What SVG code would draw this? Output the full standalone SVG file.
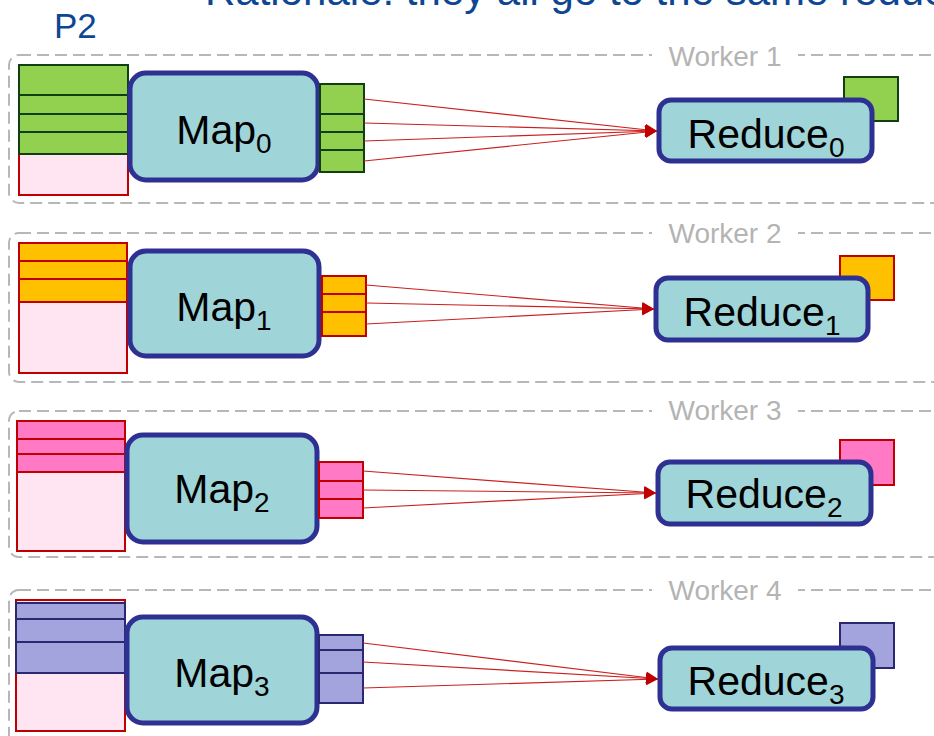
<svg xmlns="http://www.w3.org/2000/svg" width="934" height="736" viewBox="0 0 934 736">
  <defs>
    <style>
      .title { font-family: "Liberation Sans", Arial, sans-serif; fill: #0d4794; }
      .worker { fill: none; stroke: #b7b7b7; stroke-width: 2; stroke-dasharray: 12 6; }
      .wlabel { font-family: "Liberation Sans", Arial, sans-serif; font-size: 28px; fill: #b4b4b4; }
      .gap { fill: #ffffff; }
      .task { fill: #9fd4d8; stroke: #2e3192; stroke-width: 5; }
      .tasktext { font-family: "Liberation Sans", Arial, sans-serif; font-size: 41px; fill: #000000; }
      .sub { font-size: 28px; }
      .bg { fill: #ffe4f2; stroke: #c00000; stroke-width: 2; }
      .green { fill: #92d050; stroke: #123f12; stroke-width: 2; }
      .yellow { fill: #ffc000; stroke: #c00000; stroke-width: 2; }
      .pink { fill: #ff79c4; stroke: #c00000; stroke-width: 2; }
      .purple { fill: #a3a3de; stroke: #2a286e; stroke-width: 2; }
      .flow { fill: none; stroke: #cc1f1f; stroke-width: 1.2; }
    </style>
    <marker id="arrow" markerUnits="userSpaceOnUse" markerWidth="12" markerHeight="12" refX="12" refY="6" orient="auto">
      <path d="M0,0 L12,6 L0,12 z" fill="#c00000"/>
    </marker>
  </defs>

  <!-- heading -->
  <text class="title" x="205" y="5" font-size="42">Rationale: they all go to the same reducer</text>
  <text class="title" x="54" y="38" font-size="35">P2</text>

  <!-- worker frames -->
  <g id="worker-frames">
    <rect class="worker" x="9" y="55" width="960" height="148" rx="10"/>
    <rect class="gap" x="652" y="48" width="146" height="14"/>
    <text class="wlabel" x="725" y="66" text-anchor="middle">Worker 1</text>

    <rect class="worker" x="9" y="233" width="960" height="149" rx="10"/>
    <rect class="gap" x="652" y="226" width="146" height="14"/>
    <text class="wlabel" x="725" y="243" text-anchor="middle">Worker 2</text>

    <rect class="worker" x="9" y="411" width="960" height="146" rx="10"/>
    <rect class="gap" x="652" y="404" width="146" height="14"/>
    <text class="wlabel" x="725" y="420" text-anchor="middle">Worker 3</text>

    <rect class="worker" x="9" y="590" width="960" height="170" rx="10"/>
    <rect class="gap" x="652" y="583" width="146" height="14"/>
    <text class="wlabel" x="725" y="600" text-anchor="middle">Worker 4</text>
  </g>

  <!-- worker 1 -->
  <g id="input0">
    <rect class="bg" x="19" y="65" width="109" height="130"/>
    <rect class="green" x="19" y="65" width="109" height="30"/>
    <rect class="green" x="19" y="95" width="109" height="19"/>
    <rect class="green" x="19" y="114" width="109" height="18"/>
    <rect class="green" x="19" y="132" width="109" height="22"/>
  </g>
  <g id="map0">
    <rect class="task" x="130" y="73" width="188" height="107" rx="16"/>
    <text class="tasktext" x="224" y="144" text-anchor="middle">Map<tspan class="sub" dy="9">0</tspan></text>
  </g>
  <g id="out0">
    <rect class="green" x="320" y="84" width="44" height="30"/>
    <rect class="green" x="320" y="114" width="44" height="18"/>
    <rect class="green" x="320" y="132" width="44" height="18"/>
    <rect class="green" x="320" y="150" width="44" height="22"/>
  </g>
  <g id="reduce0">
    <rect class="green" x="844" y="77" width="54" height="44"/>
    <rect class="task" x="659" y="100" width="213" height="61" rx="12"/>
    <text class="tasktext" x="766" y="148" text-anchor="middle">Reduce<tspan class="sub" dy="9">0</tspan></text>
  </g>

  <!-- worker 2 -->
  <g id="input1">
    <rect class="bg" x="19" y="243" width="108" height="130"/>
    <rect class="yellow" x="19" y="243" width="108" height="18"/>
    <rect class="yellow" x="19" y="261" width="108" height="18"/>
    <rect class="yellow" x="19" y="279" width="108" height="23"/>
  </g>
  <g id="map1">
    <rect class="task" x="130" y="251" width="189" height="105" rx="16"/>
    <text class="tasktext" x="224" y="321" text-anchor="middle">Map<tspan class="sub" dy="9">1</tspan></text>
  </g>
  <g id="out1">
    <rect class="yellow" x="322" y="276" width="44" height="18"/>
    <rect class="yellow" x="322" y="294" width="44" height="18"/>
    <rect class="yellow" x="322" y="312" width="44" height="24"/>
  </g>
  <g id="reduce1">
    <rect class="yellow" x="840" y="256" width="54" height="44"/>
    <rect class="task" x="656" y="278" width="212" height="62" rx="12"/>
    <text class="tasktext" x="762" y="326" text-anchor="middle">Reduce<tspan class="sub" dy="9">1</tspan></text>
  </g>

  <!-- worker 3 -->
  <g id="input2">
    <rect class="bg" x="17" y="421" width="108" height="130"/>
    <rect class="pink" x="17" y="421" width="108" height="18"/>
    <rect class="pink" x="17" y="439" width="108" height="15"/>
    <rect class="pink" x="17" y="454" width="108" height="18"/>
  </g>
  <g id="map2">
    <rect class="task" x="127" y="435" width="190" height="107" rx="16"/>
    <text class="tasktext" x="222" y="503" text-anchor="middle">Map<tspan class="sub" dy="9">2</tspan></text>
  </g>
  <g id="out2">
    <rect class="pink" x="319" y="462" width="44" height="19"/>
    <rect class="pink" x="319" y="481" width="44" height="18"/>
    <rect class="pink" x="319" y="499" width="44" height="19"/>
  </g>
  <g id="reduce2">
    <rect class="pink" x="840" y="440" width="54" height="45"/>
    <rect class="task" x="658" y="462" width="213" height="62" rx="12"/>
    <text class="tasktext" x="764" y="508" text-anchor="middle">Reduce<tspan class="sub" dy="9">2</tspan></text>
  </g>

  <!-- worker 4 -->
  <g id="input3">
    <rect class="bg" x="16" y="600" width="109" height="131"/>
    <rect class="purple" x="16" y="603" width="109" height="16"/>
    <rect class="purple" x="16" y="619" width="109" height="23"/>
    <rect class="purple" x="16" y="642" width="109" height="31"/>
  </g>
  <g id="map3">
    <rect class="task" x="127" y="617" width="190" height="106" rx="16"/>
    <text class="tasktext" x="222" y="687" text-anchor="middle">Map<tspan class="sub" dy="9">3</tspan></text>
  </g>
  <g id="out3">
    <rect class="purple" x="319" y="635" width="44" height="15"/>
    <rect class="purple" x="319" y="650" width="44" height="23"/>
    <rect class="purple" x="319" y="673" width="44" height="30"/>
  </g>
  <g id="reduce3">
    <rect class="purple" x="840" y="623" width="54" height="45"/>
    <rect class="task" x="660" y="648" width="213" height="61" rx="12"/>
    <text class="tasktext" x="766" y="695" text-anchor="middle">Reduce<tspan class="sub" dy="9">3</tspan></text>
  </g>

  <!-- connectors: each map output partition to its reducer -->
  <g id="connectors">
    <line class="flow" x1="364" y1="99" x2="657" y2="131" marker-end="url(#arrow)"/>
    <line class="flow" x1="364" y1="123" x2="657" y2="131" marker-end="url(#arrow)"/>
    <line class="flow" x1="364" y1="141" x2="657" y2="131" marker-end="url(#arrow)"/>
    <line class="flow" x1="364" y1="161" x2="657" y2="131" marker-end="url(#arrow)"/>

    <line class="flow" x1="366" y1="285" x2="654" y2="309" marker-end="url(#arrow)"/>
    <line class="flow" x1="366" y1="303" x2="654" y2="309" marker-end="url(#arrow)"/>
    <line class="flow" x1="366" y1="324" x2="654" y2="309" marker-end="url(#arrow)"/>

    <line class="flow" x1="363" y1="471" x2="656" y2="493" marker-end="url(#arrow)"/>
    <line class="flow" x1="363" y1="490" x2="656" y2="493" marker-end="url(#arrow)"/>
    <line class="flow" x1="363" y1="508" x2="656" y2="493" marker-end="url(#arrow)"/>

    <line class="flow" x1="363" y1="643" x2="658" y2="679" marker-end="url(#arrow)"/>
    <line class="flow" x1="363" y1="662" x2="658" y2="679" marker-end="url(#arrow)"/>
    <line class="flow" x1="363" y1="688" x2="658" y2="679" marker-end="url(#arrow)"/>
  </g>
</svg>
